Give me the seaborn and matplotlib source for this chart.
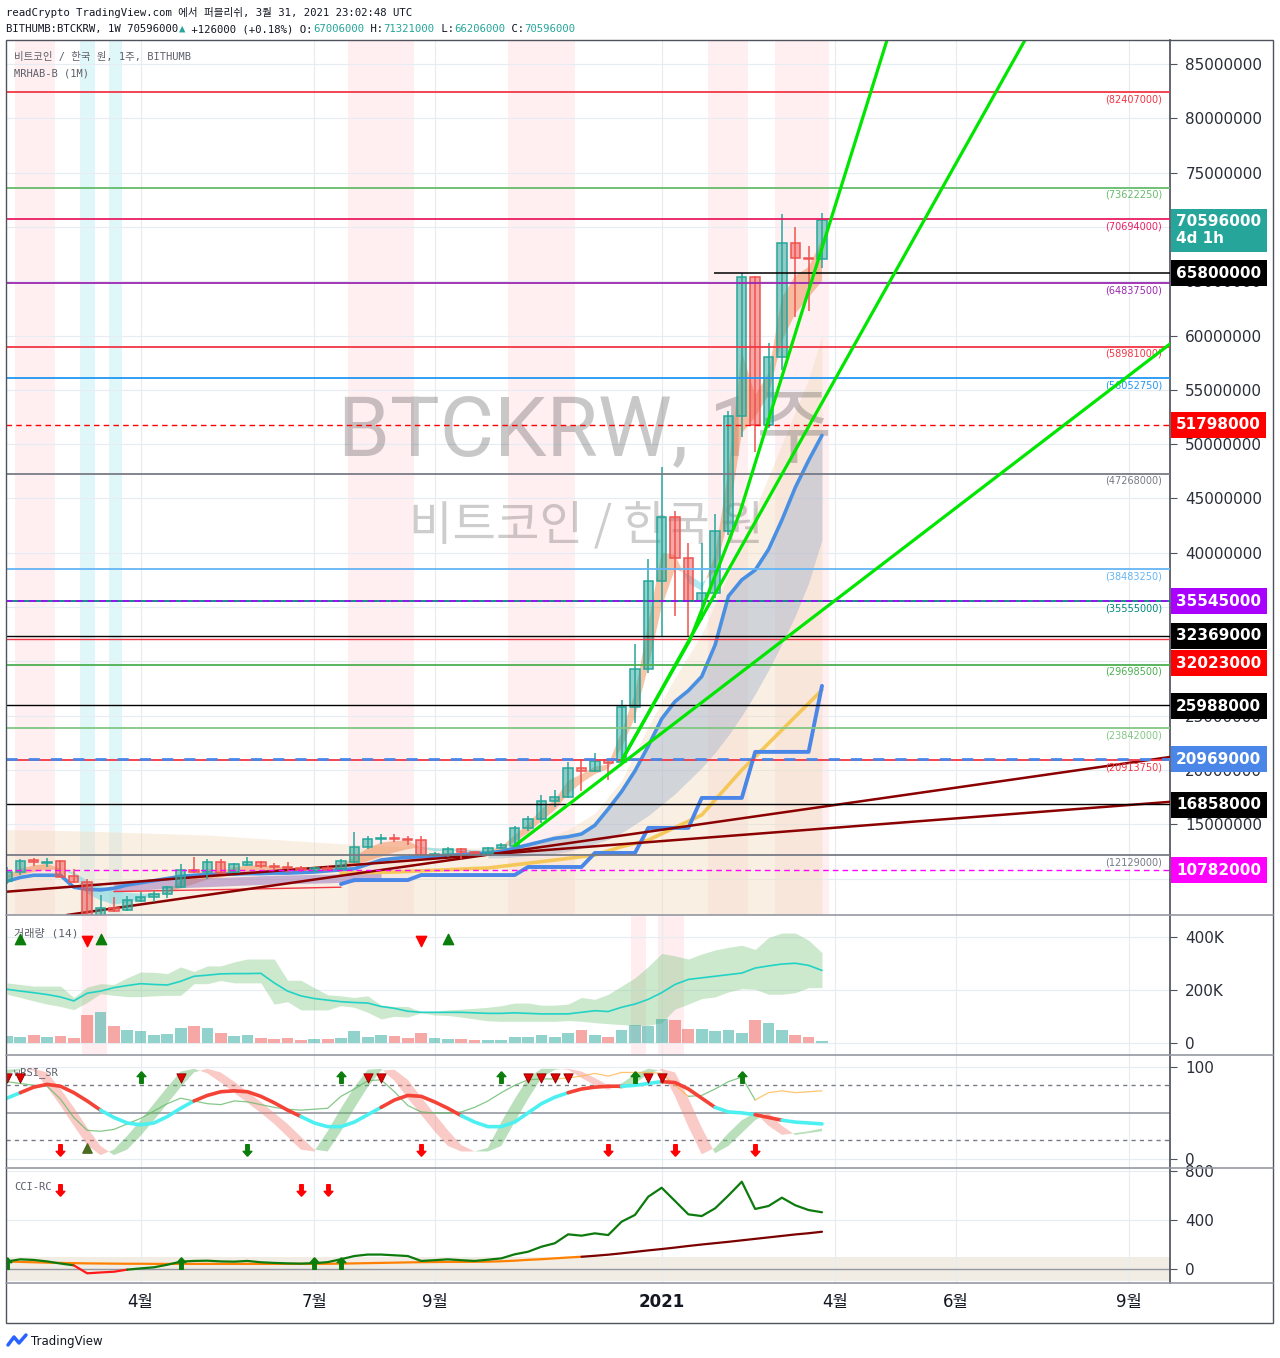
import numpy as np
import matplotlib
matplotlib.use("Agg")
import matplotlib.pyplot as plt
import matplotlib.transforms as mtransforms
from matplotlib.colors import to_rgba
from matplotlib.patches import Rectangle
from matplotlib.lines import Line2D
import seaborn as sns

sns.set_theme(style="white")
plt.rcParams['font.family'] = ['DejaVu Sans', 'Noto Sans CJK KR']
plt.rcParams['axes.unicode_minus'] = False
MONO = ['DejaVu Sans Mono', 'Noto Sans CJK KR']

# ---------------- data (prices in million KRW, weekly bars from 2020-01-27) ----------------
opens = [9.77, 10.63, 11.70, 11.45, 11.61, 10.23, 9.71, 6.50, 7.28, 7.07,
         7.96, 8.32, 8.57, 9.22, 10.78, 10.57, 11.49, 10.57, 11.24, 11.49,
         11.18, 11.09, 10.97, 10.72, 10.99, 10.85, 11.55, 12.87, 13.61, 13.70,
         13.64, 13.55, 12.14, 12.16, 12.69, 12.41, 12.23, 12.78, 13.02, 14.62,
         15.48, 17.14, 17.53, 20.20, 19.90, 20.91, 20.70, 25.76, 29.26, 37.42,
         43.31, 39.48, 35.55, 36.26, 42.02, 52.59, 65.35, 51.80, 58.01, 68.55,
         67.11, 67.006]
highs = [11.06, 11.80, 11.86, 11.89, 11.70, 10.87, 9.95, 8.48, 8.29, 8.39,
         8.78, 8.87, 9.31, 11.31, 12.01, 11.77, 11.77, 11.45, 11.95, 11.64,
         11.40, 11.49, 11.15, 11.09, 11.15, 11.77, 14.31, 13.91, 14.14, 14.08,
         13.91, 13.91, 12.41, 12.87, 12.78, 12.56, 12.87, 13.24, 14.83, 15.75,
         17.69, 18.15, 20.75, 21.00, 21.56, 21.00, 26.44, 31.59, 39.42, 47.92,
         43.84, 40.92, 40.87, 43.56, 53.07, 65.80, 65.47, 59.35, 71.19, 69.96,
         68.24, 71.321]
lows = [9.49, 10.32, 11.15, 11.06, 10.11, 9.56, 5.60, 6.00, 6.91, 7.01,
        7.86, 7.86, 8.17, 9.10, 10.48, 9.95, 10.41, 10.48, 11.15, 10.94,
        10.78, 10.53, 10.60, 10.63, 10.69, 10.72, 11.45, 12.68, 13.15, 13.39,
        13.09, 12.10, 12.01, 12.01, 11.77, 12.14, 12.10, 12.68, 12.93, 14.40,
        15.11, 16.58, 17.44, 18.08, 19.85, 19.07, 20.61, 24.35, 28.89, 32.33,
        34.16, 32.33, 33.76, 35.80, 41.63, 50.68, 49.30, 51.50, 56.82, 61.68,
        62.27, 66.206]
closes = [10.60, 11.64, 11.52, 11.55, 10.14, 9.71, 6.50, 7.28, 7.00, 8.02,
          8.32, 8.57, 9.22, 10.78, 10.57, 11.49, 10.48, 11.33, 11.52, 11.15,
          11.06, 10.94, 10.78, 10.97, 10.78, 11.64, 12.87, 13.61, 13.70, 13.61,
          13.55, 12.16, 12.26, 12.69, 12.41, 12.26, 12.78, 13.09, 14.62, 15.48,
          17.14, 17.53, 20.20, 19.90, 20.82, 20.66, 25.76, 29.26, 37.42, 43.31,
          39.48, 35.55, 36.26, 42.02, 52.59, 65.35, 51.80, 58.01, 68.55, 67.11,
          67.01, 70.596]

volume_k = [26, 23, 30, 23, 26, 20, 107, 116, 64, 48,
            44, 30, 33, 57, 64, 57, 37, 27, 30, 19,
            16, 19, 12, 16, 16, 19, 44, 22, 30, 26,
            19, 37, 19, 15, 15, 12, 12, 12, 22, 22,
            30, 22, 37, 48, 30, 22, 48, 70, 64, 91,
            88, 54, 54, 44, 48, 37, 88, 74, 48, 30,
            22, 9]
vol_ma = [203, 196, 190, 183, 174, 159, 188, 196, 209, 217,
          224, 221, 219, 233, 252, 256, 261, 262, 262, 263,
          227, 196, 178, 168, 162, 156, 153, 151, 138, 131,
          120, 116, 116, 116, 116, 114, 112, 112, 114, 112,
          110, 110, 110, 116, 122, 119, 135, 147, 165, 190,
          221, 240, 246, 252, 258, 264, 283, 291, 298, 301,
          293, 274]
vol_upper = [227, 221, 215, 215, 215, 172, 211, 224, 221, 246,
             268, 267, 262, 287, 270, 291, 291, 306, 317, 317,
             317, 237, 237, 209, 182, 178, 172, 178, 143, 138,
             138, 119, 119, 125, 128, 131, 135, 141, 151, 151,
             143, 143, 147, 172, 165, 184, 215, 246, 289, 338,
             329, 317, 336, 351, 361, 369, 353, 398, 415, 415,
             388, 341]
vol_lower = [184, 172, 159, 147, 138, 126, 153, 186, 180, 175,
             175, 178, 180, 180, 224, 224, 236, 227, 227, 227,
             147, 156, 125, 125, 125, 141, 135, 116, 91, 101,
             98, 114, 106, 104, 98, 91, 84, 82, 82, 82,
             82, 82, 85, 82, 77, 73, 70, 67, 67, 77,
             128, 147, 168, 174, 193, 205, 203, 184, 184, 190,
             209, 209]

# overlays on the price panel
ema_fast = [10.3, 10.9, 11.2, 11.35, 10.9, 10.3, 8.6, 8.0, 7.6, 7.8,
            8.1, 8.4, 8.8, 9.8, 10.3, 10.9, 10.7, 11.0, 11.2, 11.2,
            11.1, 11.0, 10.9, 10.9, 10.85, 11.2, 12.0, 12.8, 13.3, 13.45,
            13.5, 12.8, 12.5, 12.6, 12.5, 12.4, 12.6, 12.9, 14.0, 15.0,
            16.4, 17.2, 19.0, 19.6, 20.3, 20.5, 23.5, 27.0, 33.5, 40.0,
            39.8, 37.2, 36.5, 39.8, 47.5, 58.5, 54.5, 56.5, 63.5, 65.5,
            66.3, 68.8]
ema_slow = [10.0, 10.3, 10.6, 10.8, 10.8, 10.6, 9.8, 9.3, 8.9, 8.7,
            8.6, 8.6, 8.7, 9.1, 9.5, 9.9, 10.1, 10.3, 10.5, 10.6,
            10.7, 10.75, 10.8, 10.8, 10.8, 10.9, 11.2, 11.6, 12.0, 12.4,
            12.7, 12.9, 12.8, 12.7, 12.65, 12.6, 12.55, 12.6, 13.4, 14.2,
            15.3, 16.3, 17.8, 18.8, 19.6, 20.1, 22.0, 24.8, 29.5, 35.0,
            38.5, 38.0, 37.2, 38.3, 43.0, 51.0, 52.5, 54.5, 59.5, 62.0,
            63.5, 65.0]
blue_ma = [9.75, 10.1, 10.3, 10.3, 10.3, 9.2, 9.0, 8.95, 9.1, 9.4,
           9.6, 9.8, 10.0, 10.2, 10.3, 10.35, 10.4, 10.4, 10.45, 10.45,
           10.5, 10.5, 10.55, 10.6, 10.7, 10.8, 10.9, 11.3, 11.7, 11.85,
           11.95, 12.0, 12.07, 12.15, 12.2, 12.3, 12.35, 12.5, 12.8, 13.1,
           13.4, 13.7, 13.85, 14.1, 14.9, 16.4, 18.0, 19.9, 22.2, 24.7,
           26.3, 27.3, 28.6, 31.5, 36.0, 37.5, 38.4, 40.3, 43.0, 46.0,
           48.5, 50.8]
blue_band_start = 36
blue_band_low = [11.9, 11.9, 12.0, 12.1, 12.2, 12.3, 12.5, 12.8, 13.2, 13.6,
                 14.2, 15.0, 15.8, 16.8, 17.8, 19.0, 20.2, 21.6, 23.2, 25.0,
                 27.0, 29.2, 31.6, 34.2, 37.2, 41.2]
cloud_x = [0, 5, 10, 15, 20, 25, 30, 35, 38, 40, 42, 44, 46, 48, 50, 52, 54, 56, 58, 60, 61]
cloud_hi = [14.5, 14.4, 14.2, 14.0, 13.6, 13.2, 12.9, 12.8, 13.0, 13.6, 14.5,
            16.0, 19.0, 24.0, 28.5, 32.5, 38.0, 44.0, 50.0, 56.0, 60.0]
cloud_lo = [6.0] * 21
step_start = 25
step_line = [9.49, 9.86, 9.86, 9.86, 9.86, 9.86, 10.32, 10.32, 10.32, 10.32,
             10.32, 10.32, 10.32, 10.32, 11.06, 11.06, 11.06, 11.06, 11.06, 12.35,
             12.35, 12.35, 12.35, 14.66, 14.66, 14.66, 14.66, 17.42, 17.42, 17.42,
             17.42, 21.66, 21.66, 21.66, 21.66, 21.66, 27.74]
yellow_x = [25, 29, 36, 41, 44, 46, 48, 52, 55, 58, 61]
yellow_p = [10.5, 10.6, 10.97, 11.7, 12.16, 12.93, 13.54, 15.85, 19.99, 23.67, 27.36]
purple_x = [8, 12, 16, 20, 24, 28]
purple_hi = [9.6, 9.9, 10.1, 10.3, 10.4, 10.5]
purple_lo = [8.8, 9.1, 9.3, 9.5, 9.6, 9.8]
red_thin_x = [8, 17, 25]
red_thin_p = [8.8, 9.0, 9.2]
trend_a_x, trend_a_p = [4.49, 87.05], [6.64, 21.19]
trend_b_x, trend_b_p = [-0.075, 87.05], [8.78, 17.06]
fan1_x = [46.03, 51.12, 54.87, 59.36, 65.87]
fan1_p = [20.91, 31.96, 43.75, 61.61, 87.21]
fan2_x, fan2_p = [46.03, 76.2], [20.91, 87.21]
fan3_x, fan3_p = [38.0, 87.05], [13.02, 59.22]

pink_zones = [(0.6, 3.6), (25.5, 30.5), (37.5, 42.5), (52.5, 55.5), (57.5, 61.5)]
cyan_zones = [(5.5, 6.6), (7.6, 8.6)]
vol_pink_zones = [(5.6, 7.5), (46.7, 47.8), (48.7, 50.7)]

# horizontal levels: value, colour, label in brackets
levels = [(82.407, '#f23645', '82407000'), (73.62225, '#66bb6a', '73622250'),
          (70.694, '#e91e63', '70694000'), (64.8375, '#9c27b0', '64837500'),
          (58.981, '#f23645', '58981000'), (56.05275, '#2196f3', '56052750'),
          (47.268, '#787b86', '47268000'), (38.48325, '#64b5f6', '38483250'),
          (35.555, '#00897b', '35555000'), (29.6985, '#4caf50', '29698500'),
          (23.842, '#81c784', '23842000'), (20.91375, '#f23645', '20913750'),
          (12.129, '#787b86', '12129000')]
# scale labels: where the label sits on the price scale, text, colour
price_boxes = [(69.7, '70596000\n4d 1h', '#26a69a'), (65.75, '65800000', '#000000'),
               (51.798, '51798000', '#ff0000'), (35.545, '35545000', '#aa00ff'),
               (32.35, '32369000', '#000000'), (29.8, '32023000', '#ff0000'),
               (25.85, '25988000', '#000000'), (20.969, '20969000', '#4a86e8'),
               (16.8, '16858000', '#000000'), (10.782, '10782000', '#ff00ff')]
price_ticks = [10, 15, 20, 25, 30, 35, 40, 45, 50, 55, 60, 65, 70, 75, 80, 85]
covered_ticks = [10, 30, 35, 70]

# wRSI_SR panel
rsi_smooth = [66, 72, 78, 81, 79, 72, 63, 53, 45, 39,
              37, 39, 46, 55, 63, 69, 73, 74, 73, 68,
              61, 53, 46, 39, 35, 35, 40, 48, 56, 64,
              69, 68, 62, 55, 47, 40, 35, 35, 40, 50,
              60, 67, 72, 76, 78, 79, 79, 80, 82, 84,
              83, 76, 66, 56, 51, 50, 48, 45, 42, 40,
              39, 38]
rsi_state = 'c' + 'r' * 6 + 'c' * 7 + 'r' * 8 + 'c' * 6 + 'r' * 6 + 'c' * 8 + 'r' * 4 + 'c' * 3 + 'r' * 4 + 'c' * 3 + 'r' * 2 + 'c' * 4
rsi_fast = [97, 98, 96, 78, 58, 36, 15, 4, 10, 25,
            42, 60, 78, 95, 98, 93, 83, 72, 61, 50,
            38, 24, 10, 8, 30, 55, 78, 97, 98, 85,
            66, 48, 30, 14, 8, 8, 12, 40, 65, 88,
            98, 98, 97, 88, 80, 75, 82, 92, 98, 96,
            68, 35, 5, 12, 28, 42, 50, 36, 26, 28,
            30, 33]
rsi_slow = [92, 97, 98, 94, 76, 56, 34, 14, 4, 10,
            25, 42, 60, 78, 94, 98, 94, 84, 73, 62,
            50, 38, 24, 10, 8, 30, 55, 78, 96, 97,
            86, 67, 49, 31, 15, 8, 8, 14, 40, 65,
            88, 97, 98, 95, 88, 80, 76, 82, 92, 98,
            94, 66, 34, 6, 14, 28, 42, 50, 36, 26,
            28, 30]
rsi_thin = [84, 82, 80, 79, 65, 45, 31, 30, 32, 38,
            44, 52, 60, 66, 63, 60, 59, 63, 62, 59,
            56, 54, 53, 54, 55, 68, 76, 85, 86, 73,
            58, 51, 50, 50, 51, 56, 63, 72, 80, 86,
            87, 87, 88, 90, 93, 90, 94, 94, 94, 93,
            80, 68, 69, 76, 84, 89, 64, 72, 74, 72,
            73, 74]
rsi_thin_state = 'g' * 41 + 'o' * 10 + 'g' * 5 + 'o' * 6
rsi_tri_dn_x = [0, 1, 13, 27, 28, 39, 40, 41, 42, 48, 49]
rsi_up_top_x = [10, 25, 37, 47, 55]
rsi_dn_bot_x = [4, 31, 45, 50, 56]
rsi_green_dn_x = [18]
rsi_tri_up_x = [6]

# CCI-RC panel
cci_vals = [62, 79, 74, 62, 45, 30, -35, -28, -22, -5,
            5, 14, 35, 60, 66, 68, 62, 60, 66, 55,
            50, 46, 44, 48, 56, 80, 106, 118, 118, 112,
            106, 66, 72, 79, 72, 66, 76, 87, 120, 141,
            182, 210, 283, 272, 291, 277, 386, 441, 590, 663,
            555, 446, 432, 495, 600, 712, 490, 514, 582, 520,
            481, 463]
cci_state = 'g' * 5 + 'r' * 4 + 'g' * 53
cci_signal = [62, 58, 55, 52, 50, 48, 46, 45, 44, 43,
              43, 42, 42, 42, 42, 42, 42, 42, 42, 42,
              42, 42, 42, 42, 43, 44, 46, 48, 50, 52,
              54, 56, 57, 58, 58, 59, 60, 63, 68, 75,
              80, 87, 94, 100, 108, 117, 128, 140, 152, 163,
              175, 188, 200, 211, 222, 234, 246, 258, 270, 282,
              292, 304]
cci_sig_state = 'o' * 43 + 'd' * 19
cci_dn_x = [4, 22, 24]
cci_up_x = [0, 13, 23, 25]

vol_up_x = [1, 7, 33]
vol_dn_x = [6, 31]

xtick_pos = [10, 23, 32, 49, 62, 71, 84]
xtick_lab = ['4월', '7월', '9월', '2021', '4월', '6월', '9월']

# ---------------- layout ----------------
W, H = 1280, 1358
LEFT, RIGHT = 6, 1170
XLIM = (-0.075, 87.05)
UP, DOWN = '#26a69a', '#ef5350'

fig = plt.figure(figsize=(W / 100, H / 100), dpi=100)
fig.patch.set_facecolor('white')


def panel(top, bottom):
    ax = fig.add_axes([LEFT / W, 1 - bottom / H, (RIGHT - LEFT) / W, (bottom - top) / H])
    ax.set_xlim(*XLIM)
    ax.set_facecolor('white')
    for s in ['top', 'left', 'bottom']:
        ax.spines[s].set_visible(False)
    ax.spines['right'].set_color('#50535e')
    ax.yaxis.tick_right()
    ax.tick_params(axis='y', length=5, width=0.8, color='#50535e', labelsize=11,
                   labelcolor='#2a2e39', pad=6, direction='out', right=True)
    ax.tick_params(axis='x', length=0, labelbottom=False)
    ax.set_xticks(xtick_pos)
    ax.grid(True, color='#e5ecf2', lw=0.8)
    ax.set_axisbelow(True)
    return ax


def colored_segments(ax, xs, ys, states, palette, lw, alpha=1.0, z=5):
    start = 0
    for k in range(1, len(xs)):
        if states[k] != states[start] or k == len(xs) - 1:
            ax.plot(xs[start:k + 1], ys[start:k + 1], color=palette[states[start]],
                    lw=lw, alpha=alpha, zorder=z, solid_capstyle='round')
            start = k


up_arrow = [(0, 1), (-0.75, 0.15), (-0.3, 0.15), (-0.3, -1), (0.3, -1), (0.3, 0.15), (0.75, 0.15), (0, 1)]
down_arrow = [(x, -y) for (x, y) in up_arrow]

weeks = np.arange(len(closes))
o, h, l, c = map(np.array, (opens, highs, lows, closes))
is_up = c >= o
edge_cols = [UP if u else DOWN for u in is_up]

# ---------------- price panel ----------------
ax = panel(40, 915)
ax.set_ylim(6.64, 87.21)
ax.set_yticks(price_ticks)
ax.set_yticklabels(['' if v in covered_ticks else f'{int(v * 1e6)}' for v in price_ticks])

for a, b in pink_zones:
    ax.axvspan(a, b, color='#ffcdd2', alpha=0.3, lw=0, zorder=0.5)
for a, b in cyan_zones:
    ax.axvspan(a, b, color='#b2ebf2', alpha=0.4, lw=0, zorder=0.5)

ax.fill_between(cloud_x, cloud_lo, cloud_hi, color='#f3dcc0', alpha=0.45, lw=0, zorder=1)
bx = weeks[blue_band_start:]
ax.fill_between(bx, blue_band_low, blue_ma[blue_band_start:], color='#7e9cc9', alpha=0.32, lw=0, zorder=2)
ef, es = np.array(ema_fast), np.array(ema_slow)
ax.fill_between(weeks, es, ef, where=ef >= es, interpolate=True, color='#f08a50', alpha=0.5, lw=0, zorder=3)
ax.fill_between(weeks, es, ef, where=ef < es, interpolate=True, color='#6fd6e6', alpha=0.55, lw=0, zorder=3)
ax.fill_between(purple_x, purple_lo, purple_hi, color='#8e63b8', alpha=0.45, lw=0, zorder=3)

ax.text(43.3, 51.1, 'BTCKRW, 1주', fontsize=60, color='#3a3a3a', alpha=0.28,
        ha='center', va='center', family=['Roboto', 'Noto Sans CJK KR'], zorder=1.5)
ax.text(43.4, 42.4, '비트코인 / 한국 원', fontsize=34, color='#3a3a3a', alpha=0.25,
        ha='center', va='center', family=['Noto Sans CJK KR'], zorder=1.5)

sns.lineplot(x=weeks, y=blue_ma, ax=ax, color='#4a90e2', linewidth=2.6, zorder=4)
sns.lineplot(x=yellow_x, y=yellow_p, ax=ax, color='#f5c242', linewidth=2.6, alpha=0.85, zorder=4)
sns.lineplot(x=weeks[step_start:], y=step_line, ax=ax, color='#4a86e8', linewidth=2.8, zorder=4)
sns.lineplot(x=red_thin_x, y=red_thin_p, ax=ax, color='#f23645', linewidth=1.0, zorder=4)
for tx, tp in ((trend_a_x, trend_a_p), (trend_b_x, trend_b_p)):
    sns.lineplot(x=tx, y=tp, ax=ax, color='#8b0000', linewidth=1.8, zorder=5)

for val, col, lab in levels:
    ax.axhline(val, color=col, lw=1.3, zorder=8)
    ax.annotate(f'({lab})', xy=(86.45, val), xytext=(0, -1.5), textcoords='offset points',
                ha='right', va='top', fontsize=7, color=col, zorder=9)
ax.axhline(51.798, color='#ff0000', lw=1.0, ls=(0, (4, 3)), zorder=8)
ax.axhline(35.545, color='#aa00ff', lw=1.2, ls=(0, (4, 3)), zorder=8)
ax.axhline(32.369, color='#000000', lw=1.0, zorder=8)
ax.axhline(32.023, color='#f23645', lw=1.0, zorder=8)
ax.axhline(25.988, color='#000000', lw=1.0, zorder=8)
ax.axhline(20.969, color='#4a86e8', lw=2.0, ls=(0, (4, 4)), zorder=8.5)
ax.axhline(16.858, color='#000000', lw=1.0, zorder=8)
ax.axhline(10.782, color='#ff00ff', lw=1.0, ls=(0, (4, 3)), zorder=8)
ax.hlines(65.8, 52.9, XLIM[1], color='#000000', lw=1.1, zorder=8)

ax.vlines(weeks, lows, highs, colors=edge_cols, lw=1.1, zorder=6)
ax.bar(weeks, np.maximum(np.abs(c - o), 0.08), bottom=np.minimum(o, c), width=0.7,
       color=[to_rgba(ec, 0.5) for ec in edge_cols], edgecolor=edge_cols, linewidth=1.1, zorder=7)

for fx_, fp_ in ((fan1_x, fan1_p), (fan2_x, fan2_p), (fan3_x, fan3_p)):
    sns.lineplot(x=fx_, y=fp_, ax=ax, color='#00e600', linewidth=2.3, zorder=9)

trans = mtransforms.blended_transform_factory(ax.transAxes, ax.transData)
for val, txt, col in price_boxes:
    ax.text(1.0 + 6 / 1164, val, txt, transform=trans, color='white', fontsize=11,
            fontweight='bold', va='center', ha='left', linespacing=1.15, clip_on=False, zorder=20,
            bbox=dict(boxstyle='square,pad=0.36', fc=col, ec='none'))

ax.text(8 / 1164, 1 - 17 / 875, '비트코인 / 한국 원, 1주, BITHUMB', transform=ax.transAxes,
        fontsize=7.5, color='#5d606b', family=MONO, va='center')
ax.text(8 / 1164, 1 - 33 / 875, 'MRHAB-B (1M)', transform=ax.transAxes,
        fontsize=7.5, color='#5d606b', family=MONO, va='center')

# ---------------- volume panel ----------------
axv = panel(915, 1055)
axv.set_ylim(-45, 483)
axv.set_yticks([0, 200, 400])
axv.set_yticklabels(['0', '200K', '400K'])
for a, b in vol_pink_zones:
    axv.axvspan(a, b, color='#ffcdd2', alpha=0.35, lw=0, zorder=0.5)
axv.fill_between(weeks, vol_lower, vol_upper, color='#81c784', alpha=0.4, lw=0, zorder=1)
sns.lineplot(x=weeks, y=vol_ma, ax=axv, color='#22d3c5', linewidth=1.2, zorder=3)
axv.bar(weeks, volume_k, width=0.88, color=[to_rgba(ec, 0.5) for ec in edge_cols], lw=0, zorder=2)
axv.scatter(vol_up_x, [392] * len(vol_up_x), marker='^', s=55, color='#0a7d0a', zorder=5)
axv.scatter(vol_dn_x, [385] * len(vol_dn_x), marker='v', s=55, color='#ff0000', zorder=5)
axv.text(8 / 1164, 1 - 18 / 140, '거래량 (14)', transform=axv.transAxes, fontsize=8,
         color='#5d606b', family=MONO, va='center')

# ---------------- wRSI_SR panel ----------------
axr = panel(1055, 1168)
axr.set_ylim(-10, 113)
axr.set_yticks([0, 100])
axr.axhline(80, color='#787b86', lw=1, ls=(0, (3, 3)), zorder=1)
axr.axhline(20, color='#787b86', lw=1, ls=(0, (3, 3)), zorder=1)
axr.axhline(50, color='#9598a1', lw=1.2, zorder=1)
rf, rs = np.array(rsi_fast), np.array(rsi_slow)
axr.fill_between(weeks, rs, rf, where=rf >= rs, interpolate=True, color='#66bb6a', alpha=0.45, lw=0, zorder=2)
axr.fill_between(weeks, rs, rf, where=rf < rs, interpolate=True, color='#f28b82', alpha=0.45, lw=0, zorder=2)
colored_segments(axr, weeks, rsi_thin, rsi_thin_state, {'g': '#66bb6a', 'o': '#ffb74d'}, lw=0.9, alpha=0.8, z=3)
colored_segments(axr, weeks, rsi_smooth, rsi_state, {'r': '#f44336', 'c': '#4df0f0'}, lw=2.6, z=4)
axr.scatter(rsi_tri_dn_x, [88] * len(rsi_tri_dn_x), marker='v', s=45, color='#e00000',
            edgecolor='#8b0000', lw=0.6, zorder=6)
axr.scatter(rsi_up_top_x, [89] * len(rsi_up_top_x), marker=up_arrow, s=70, color='#0a7d0a', zorder=6)
axr.scatter(rsi_dn_bot_x, [10] * len(rsi_dn_bot_x), marker=down_arrow, s=70, color='#ff0000', zorder=6)
axr.scatter(rsi_green_dn_x, [10] * len(rsi_green_dn_x), marker=down_arrow, s=70, color='#0a7d0a', zorder=6)
axr.scatter(rsi_tri_up_x, [12] * len(rsi_tri_up_x), marker='^', s=45, color='#4b6b1e', zorder=6)
axr.text(8 / 1164, 1 - 18 / 113, 'wRSI_SR', transform=axr.transAxes, fontsize=7.5,
         color='#5d606b', family=MONO, va='center', zorder=5)

# ---------------- CCI-RC panel ----------------
axc = panel(1168, 1283)
axc.set_ylim(-114, 824)
axc.set_yticks([0, 400, 800])
axc.axhspan(-100, 100, color='#e6dccb', alpha=0.5, lw=0, zorder=0.5)
axc.axhline(0, color='#9598a1', lw=1.0, zorder=1)
colored_segments(axc, weeks, cci_signal, cci_sig_state, {'o': '#ff8000', 'd': '#7b0000'}, lw=1.6, z=3)
colored_segments(axc, weeks, cci_vals, cci_state, {'g': '#0d7a0d', 'r': '#ff1a1a'}, lw=1.6, z=4)
axc.scatter(cci_dn_x, [645] * len(cci_dn_x), marker=down_arrow, s=70, color='#ff0000', zorder=6)
axc.scatter(cci_up_x, [49] * len(cci_up_x), marker=up_arrow, s=70, color='#0a7d0a', zorder=6)
axc.text(8 / 1164, 1 - 19 / 115, 'CCI-RC', transform=axc.transAxes, fontsize=7.5,
         color='#5d606b', family=MONO, va='center')
axc.tick_params(axis='x', labelbottom=True, labelsize=12, labelcolor='#131722', pad=7)
axc.set_xticklabels(xtick_lab)
for t in axc.get_xticklabels():
    if t.get_text() == '2021':
        t.set_fontweight('bold')

# ---------------- frame, separators, header ----------------
fig.add_artist(Rectangle((LEFT / W, 1 - 1323 / H), (1273 - LEFT) / W, (1323 - 40) / H,
                         transform=fig.transFigure, fill=False, ec='#50535e', lw=1.0))
for yy in (915, 1055, 1168, 1283):
    fig.add_artist(Line2D([LEFT / W, 1273 / W], [1 - yy / H, 1 - yy / H],
                          transform=fig.transFigure, color='#9598a1', lw=1.2))

fig.text(6 / W, 1 - 13 / H, 'readCrypto TradingView.com 에서 퍼블리쉬, 3월 31, 2021 23:02:48 UTC',
         fontsize=7.65, family=MONO, color='#131722', va='center')
header2 = [('BITHUMB:BTCKRW, 1W 70596000', '#131722'), ('▲', UP),
           (' +126000 (+0.18%) O:', '#131722'), ('67006000', UP), (' H:', '#131722'),
           ('71321000', UP), (' L:', '#131722'), ('66206000', UP), (' C:', '#131722'),
           ('70596000', UP)]
n = 0
for seg, col in header2:
    fig.text((6 + n * 6.4) / W, 1 - 29 / H, seg, fontsize=7.65, family=MONO, color=col, va='center')
    n += len(seg)

fig.add_artist(Line2D([8 / W, 14 / W, 19 / W, 26 / W], [1 - 1345 / H, 1 - 1337 / H, 1 - 1343 / H, 1 - 1335 / H],
                      transform=fig.transFigure, color='#2962ff', lw=2.5))
fig.text(31 / W, 1 - 1341 / H, 'TradingView', fontsize=8.5, color='#131722', va='center')

fig.savefig('out.png', dpi=100)
